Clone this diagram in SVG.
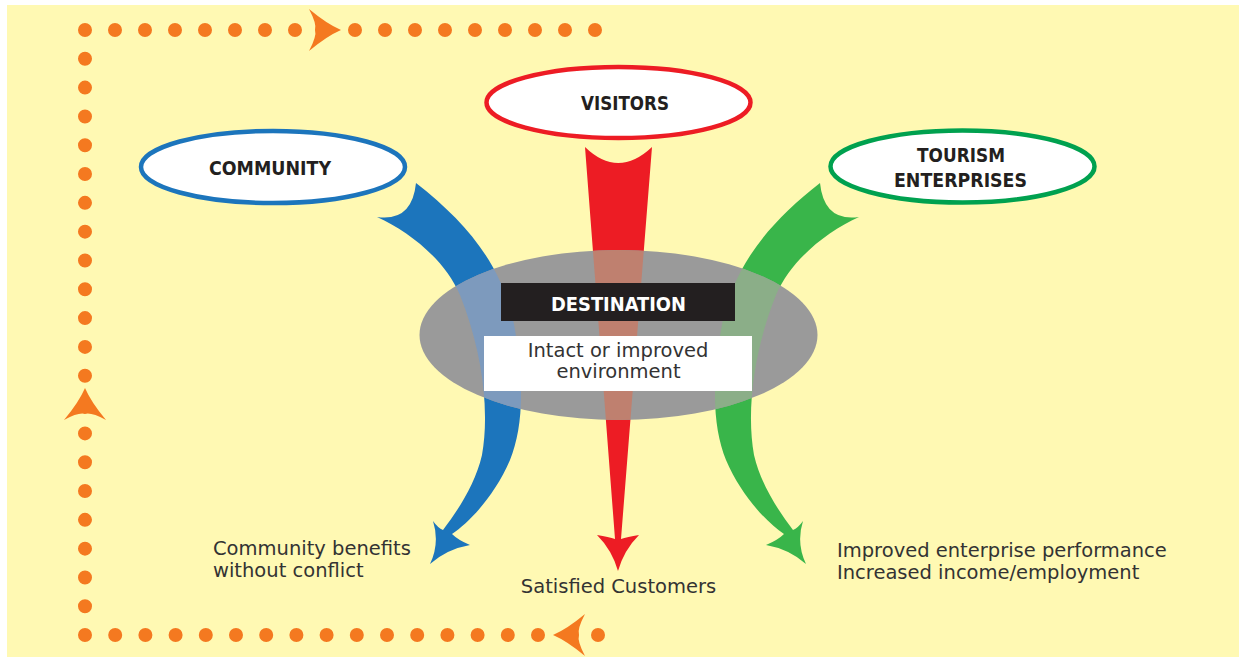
<svg xmlns="http://www.w3.org/2000/svg" xmlns:xlink="http://www.w3.org/1999/xlink" width="1239" height="659" viewBox="0 0 1239 659">
  <style>
    .bg { fill: #FFF9B3; }
    .dots { fill: none; stroke: #F47920; stroke-width: 14; stroke-linecap: round; stroke-dasharray: 0 30; }
    .dots-v { stroke-dasharray: 0 28.81; }
    .cycle-arrow { fill: #F47920; }
    .ring { fill: #FFFFFF; stroke-width: 4.5; }
    .title { font-family: "DejaVu Sans Condensed", "DejaVu Sans", sans-serif; font-weight: bold; font-size: 19.5px; fill: #231F20; text-anchor: middle; }
    .label { font-family: "DejaVu Sans", "Liberation Sans", sans-serif; font-size: 19.5px; fill: #333333; }
    .center { text-anchor: middle; }
  </style>
  <defs>
    <!-- curved flow band from the community node, mirrored for the enterprises node -->
    <path id="flowSide" d="M377,217 Q412,222 416,183 C470,225 505,270 515,330 C525,390 522,430 510,460 C495,495 470,522 452,534 Q458,540 470,545 Q447,549 430,564 Q440,543 433,521 Q438,528 443,530 C458,510 475,485 482,455 C490,410 482,350 460,295 C445,260 410,232 377,217 Z"/>
    <!-- straight tapering flow band from the visitors node -->
    <path id="flowMid" d="M585,147 Q618,179 652,147 L621,539 Q627,537 639,535 Q624,550 618,571 Q612,550 597,535 Q609,537 615,539 Z"/>
    <!-- concave arrowhead for the dotted cycle, tip at the origin, pointing +x -->
    <path id="cycleTip" d="M0,0 Q-14,-6 -32,-21 Q-24,-6 -26,0 Q-24,6 -32,21 Q-14,6 0,0 Z"/>
    <clipPath id="destClip">
      <ellipse cx="618.5" cy="335" rx="199" ry="85"/>
    </clipPath>
  </defs>

  <rect x="0" y="0" width="1239" height="659" fill="#FFFFFF"/>
  <rect class="bg" x="7" y="5" width="1232" height="652"/>

  <g id="connectors">
    <g id="cycle">
      <path class="dots" d="M85,30 H295.2"/>
      <path class="dots" d="M355,30 H595.2"/>
      <path class="dots dots-v" d="M85,58.81 V375.9"/>
      <path class="dots dots-v" d="M85,433.4 V635.2"/>
      <path class="dots" style="stroke-dasharray:0 30.2" d="M115.2,635 H538.2"/>
      <path class="dots" d="M598,635 H598.1"/>
      <use class="cycle-arrow" xlink:href="#cycleTip" transform="translate(341,30)"/>
      <use class="cycle-arrow" xlink:href="#cycleTip" transform="translate(85,388) rotate(-90)"/>
      <use class="cycle-arrow" xlink:href="#cycleTip" transform="translate(553,635) rotate(180)"/>
    </g>
    <g id="flows">
      <use xlink:href="#flowSide" fill="#1C75BC"/>
      <use xlink:href="#flowMid" fill="#ED1C24"/>
      <use xlink:href="#flowSide" fill="#39B54A" transform="translate(1236,0) scale(-1,1)"/>
    </g>
  </g>

  <g id="community">
    <ellipse class="ring" cx="273" cy="167" rx="132" ry="36" stroke="#1C75BC"/>
    <text class="title" x="270" y="175" textLength="122" lengthAdjust="spacingAndGlyphs">COMMUNITY</text>
  </g>

  <g id="visitors">
    <ellipse class="ring" cx="618.5" cy="102.5" rx="132" ry="35.5" stroke="#ED1C24"/>
    <text class="title" x="625" y="110" textLength="88" lengthAdjust="spacingAndGlyphs">VISITORS</text>
  </g>

  <g id="tourism-enterprises">
    <ellipse class="ring" cx="962.5" cy="166.5" rx="132" ry="36" stroke="#00A14F"/>
    <text class="title" x="961" y="162" textLength="88" lengthAdjust="spacingAndGlyphs">TOURISM</text>
    <text class="title" x="960.5" y="187" textLength="133" lengthAdjust="spacingAndGlyphs">ENTERPRISES</text>
  </g>

  <g id="destination">
    <ellipse cx="618.5" cy="335" rx="199" ry="85" fill="#9A9A9A"/>
    <!-- flows seen through the destination disc -->
    <g clip-path="url(#destClip)">
      <use xlink:href="#flowSide" fill="#7D9ABD"/>
      <use xlink:href="#flowMid" fill="#BF806F"/>
      <use xlink:href="#flowSide" fill="#8BAE88" transform="translate(1236,0) scale(-1,1)"/>
    </g>
    <rect x="501" y="283" width="234" height="38" fill="#231F20"/>
    <text class="title" x="618.5" y="310.5" style="fill:#FFFFFF" textLength="135" lengthAdjust="spacingAndGlyphs">DESTINATION</text>
    <rect x="484" y="336" width="268" height="55" fill="#FFFFFF"/>
    <text class="label center" x="618" y="357">Intact or improved</text>
    <text class="label center" x="618.5" y="378">environment</text>
  </g>

  <g id="community-outcome">
    <text class="label" x="213" y="555">Community benefits</text>
    <text class="label" x="213" y="577">without conflict</text>
  </g>

  <g id="visitor-outcome">
    <text class="label center" x="618.5" y="593">Satisfied Customers</text>
  </g>

  <g id="enterprise-outcome">
    <text class="label" x="837" y="557">Improved enterprise performance</text>
    <text class="label" x="837" y="579">Increased income/employment</text>
  </g>
</svg>
